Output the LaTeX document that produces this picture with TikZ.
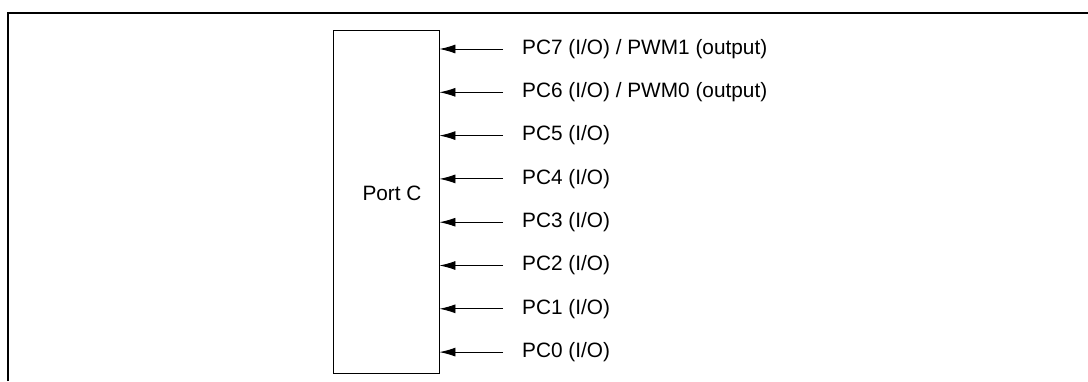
\documentclass[tikz,border=0pt]{standalone}
\usepackage{fontspec}
\setmainfont{Liberation Sans}
\usetikzlibrary{arrows.meta}
\begin{document}
\begin{tikzpicture}[x=1pt,y=-1pt,
    pinlbl/.style={anchor=west,inner xsep=19pt,inner ysep=0pt,font=\fontsize{20.8}{24}\selectfont},
    pinarrow/.style={-{Latex[length=16pt,width=9pt]},line width=0.9pt}]
    \useasboundingbox (0,0) rectangle (1088,381);
    % frame
    \draw[line width=1.7pt] (8,381) -- (8,13) -- (1088,13);
    % port block
    \node[draw,rectangle,line width=0.9pt,minimum width=106pt,minimum height=343pt,inner sep=0pt] (port) at (386,201.5){};
    \node[font=\fontsize{20.8}{24}\selectfont,inner sep=0pt] (portname) at (392,193){Port C};
    % pins
    \node[pinlbl] (pc7) at (503,49){PC7 (I/O) / PWM1 (output)};
    \node[pinlbl] (pc6) at (503,92.3){PC6 (I/O) / PWM0 (output)};
    \node[pinlbl] (pc5) at (503,135.6){PC5 (I/O)};
    \node[pinlbl] (pc4) at (503,178.9){PC4 (I/O)};
    \node[pinlbl] (pc3) at (503,222.2){PC3 (I/O)};
    \node[pinlbl] (pc2) at (503,265.5){PC2 (I/O)};
    \node[pinlbl] (pc1) at (503,308.8){PC1 (I/O)};
    \node[pinlbl] (pc0) at (503,352.1){PC0 (I/O)};
    \foreach \p in {pc7,pc6,pc5,pc4,pc3,pc2,pc1,pc0}
        \draw[pinarrow] (\p.west) -- (port.east |- \p.west);
\end{tikzpicture}
\end{document}
